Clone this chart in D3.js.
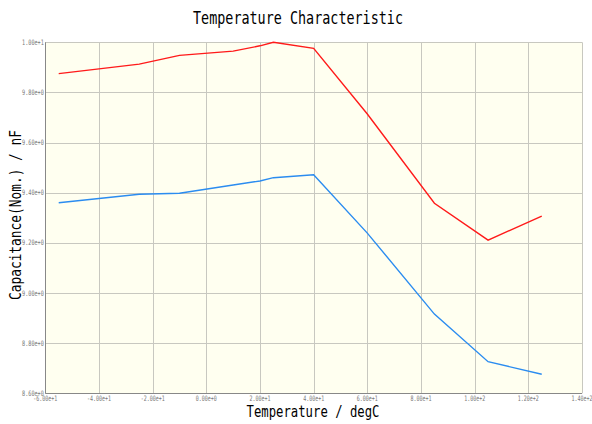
<!DOCTYPE html>
<html><head><meta charset="utf-8">
<script src="https://cdn.jsdelivr.net/npm/d3@7"></script>
<style>body{margin:0;background:#fff}svg{display:block}</style>
</head><body>
<svg id="c" width="592" height="424"></svg>
<script>
const temps = [-55, -25, -10, 10, 20, 25, 40, 60, 85, 105, 125];
const upperSeries = [9.875, 9.913, 9.948, 9.965, 9.986, 10.0, 9.976, 9.714, 9.358, 9.211, 9.307];
const lowerSeries = [9.360, 9.394, 9.398, 9.431, 9.447, 9.460, 9.472, 9.239, 8.916, 8.726, 8.676];
const xTicks = [-60, -40, -20, 0, 20, 40, 60, 80, 100, 120, 140];
const yTicks = [8.6, 8.8, 9.0, 9.2, 9.4, 9.6, 9.8, 10.0];
const title = "Temperature Characteristic";
const xTitle = "Temperature / degC";
const yTitle = "Capacitance(Nom.) / nF";

function fmt(v){
  if (v === 0) return "0.00e+0";
  const e = Math.floor(Math.log10(Math.abs(v)) + 1e-9);
  const m = v / Math.pow(10, e);
  return m.toFixed(2) + "e" + (e >= 0 ? "+" : "") + e;
}

const svg = d3.select("#c");
const L = 45.3, R = 582, T = 42.3, B = 393.3;
const x = d3.scaleLinear().domain([-60, 140]).range([L, R]);
const y = d3.scaleLinear().domain([8.6, 10.0]).range([B, T]);

svg.append("rect").attr("x", L).attr("y", T).attr("width", R - L).attr("height", B - T).attr("fill", "#fffff0");

const g = svg.append("g");
g.selectAll("line.vx").data(xTicks).join("line").attr("class","vx")
  .attr("x1", d => Math.round(x(d)) + 0.5).attr("x2", d => Math.round(x(d)) + 0.5)
  .attr("y1", T).attr("y2", B).attr("stroke", "#c8c8c0").attr("stroke-width", 1);
g.selectAll("line.hy").data(yTicks).join("line").attr("class","hy")
  .attr("y1", d => Math.round(y(d)) + 0.5).attr("y2", d => Math.round(y(d)) + 0.5)
  .attr("x1", L).attr("x2", R).attr("stroke", "#c8c8c0").attr("stroke-width", 1);

svg.append("line").attr("x1", Math.round(L)+0.5).attr("x2", Math.round(L)+0.5).attr("y1", T).attr("y2", B).attr("stroke", "#888").attr("stroke-width", 1);
svg.append("line").attr("x1", L).attr("x2", R).attr("y1", Math.round(B)+0.5).attr("y2", Math.round(B)+0.5).attr("stroke", "#888").attr("stroke-width", 1);

const tickFont = "DejaVu Sans Mono, monospace";
svg.append("g").selectAll("text").data(yTicks).join("text")
  .attr("x", L - 1.5).attr("y", d => y(d) + 2.5).attr("text-anchor", "end")
  .attr("font-family", tickFont).attr("font-size", 7.5).attr("fill", "#777")
  .attr("textLength", d => fmt(d).length * 3.1).attr("lengthAdjust", "spacingAndGlyphs")
  .text(d => fmt(d));
svg.append("g").selectAll("text").data(xTicks).join("text")
  .attr("x", d => x(d)).attr("y", B + 8).attr("text-anchor", "middle")
  .attr("font-family", tickFont).attr("font-size", 7.5).attr("fill", "#777")
  .attr("textLength", d => fmt(d).length * 3.0).attr("lengthAdjust", "spacingAndGlyphs")
  .text(d => fmt(d));

const line = d3.line().x((d, i) => x(temps[i])).y(d => y(d));
svg.append("path").datum(upperSeries).attr("d", line).attr("fill", "none").attr("stroke", "#ff1a1a").attr("stroke-width", 1.4);
svg.append("path").datum(lowerSeries).attr("d", line).attr("fill", "none").attr("stroke", "#2b8cf0").attr("stroke-width", 1.4);

svg.append("text").attr("x", 298).attr("y", 24).attr("text-anchor", "middle")
  .attr("font-family", "DejaVu Sans Mono, monospace").attr("font-size", 18)
  .attr("textLength", 210).attr("lengthAdjust", "spacingAndGlyphs").text(title);
svg.append("text").attr("x", 313).attr("y", 417).attr("text-anchor", "middle")
  .attr("font-family", "DejaVu Sans Mono, monospace").attr("font-size", 16)
  .attr("textLength", 133).attr("lengthAdjust", "spacingAndGlyphs").text(xTitle);
svg.append("text").attr("transform", "translate(21,215) rotate(-90)").attr("text-anchor", "middle")
  .attr("font-family", "DejaVu Sans Mono, monospace").attr("font-size", 16)
  .attr("textLength", 170).attr("lengthAdjust", "spacingAndGlyphs").text(yTitle);
</script>
</body></html>
